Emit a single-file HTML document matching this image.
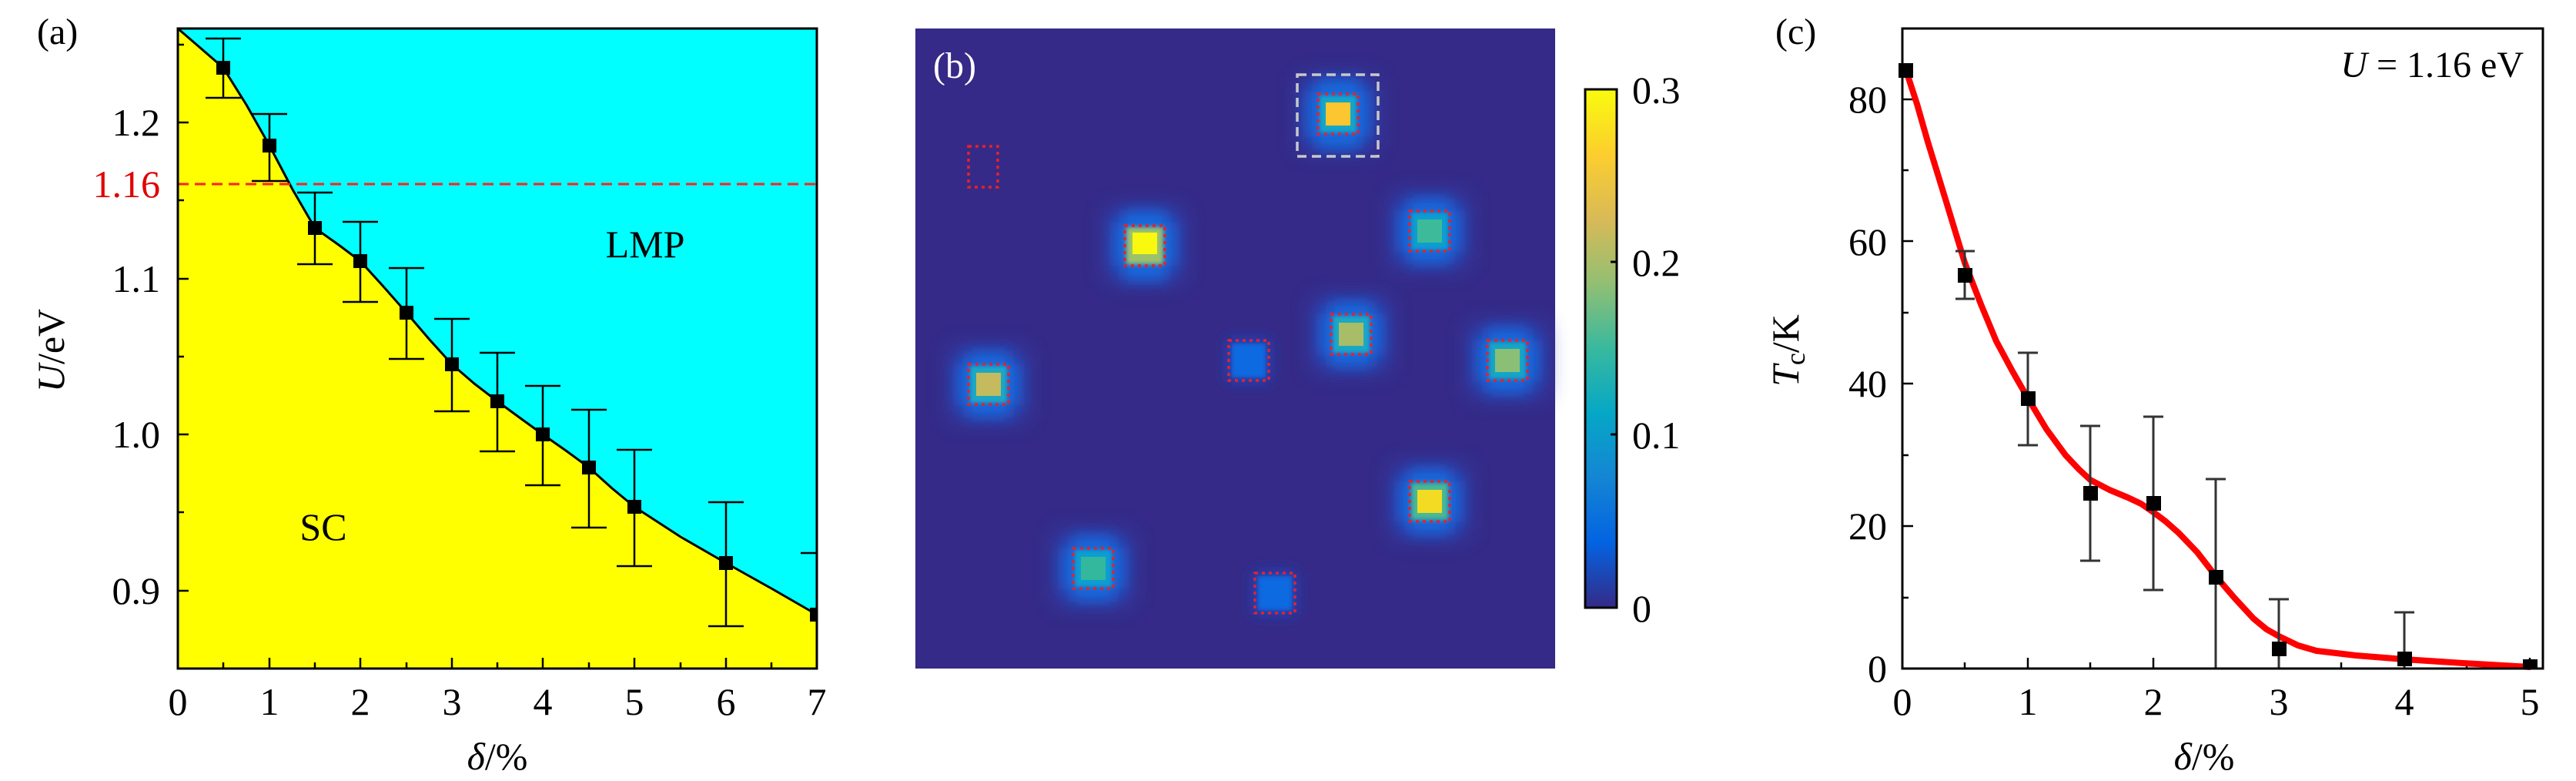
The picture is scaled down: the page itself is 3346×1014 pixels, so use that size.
<!DOCTYPE html>
<html><head><meta charset="utf-8"><style>
html,body{margin:0;padding:0;background:#fff;}
svg{display:block;}
text{font-family:"Liberation Serif","DejaVu Serif",serif;}
</style></head><body>
<svg width="3346" height="1014" viewBox="0 0 3346 1014" xmlns="http://www.w3.org/2000/svg">
<defs>
<filter id="bl" x="-50%" y="-50%" width="200%" height="200%"><feGaussianBlur stdDeviation="9"/></filter>
<filter id="bl0" x="-50%" y="-50%" width="200%" height="200%"><feGaussianBlur stdDeviation="14"/></filter>
<filter id="bl2" x="-50%" y="-50%" width="200%" height="200%"><feGaussianBlur stdDeviation="3"/></filter>
<linearGradient id="parula" x1="0" y1="1" x2="0" y2="0">
<stop offset="0" stop-color="#352A87"/><stop offset="0.125" stop-color="#0363E1"/><stop offset="0.25" stop-color="#1485D4"/><stop offset="0.375" stop-color="#06A7C6"/><stop offset="0.5" stop-color="#38B99E"/><stop offset="0.625" stop-color="#92BF73"/><stop offset="0.75" stop-color="#D9BA56"/><stop offset="0.875" stop-color="#FCCE2E"/><stop offset="1" stop-color="#F9FB0E"/>
</linearGradient>
</defs>

<!-- ===== Panel (a) ===== -->
<rect x="231" y="37" width="830" height="831" fill="#00FFFF"/>
<polygon fill="#FFFF00" points="231,37 290,88 350,189 409,296 468,339 528,406 587,473 646,521 705,564 765,607 824,658 943,731 1061,798 1061,868 231,868"/>
<polyline fill="none" stroke="#000" stroke-width="3" stroke-linejoin="round" points="231,37 260,62 290,88 320,136 350,189 380,246 409,296 440,318 468,339 498,372 528,406 558,441 587,473 616,498 646,521 676,543 705,564 735,585 765,607 795,634 824,658 884,697 943,731 1002,764 1061,798"/>
<line x1="231" y1="239" x2="1061" y2="239" stroke="#FF2020" stroke-width="3" stroke-dasharray="14,8"/>
<g stroke="#000" stroke-width="2.5">
<line x1="290" y1="50" x2="290" y2="127"/><line x1="267" y1="50" x2="313" y2="50"/><line x1="267" y1="127" x2="313" y2="127"/>
<line x1="350" y1="148" x2="350" y2="235"/><line x1="327" y1="148" x2="373" y2="148"/><line x1="327" y1="235" x2="373" y2="235"/>
<line x1="409" y1="250" x2="409" y2="343"/><line x1="386" y1="250" x2="432" y2="250"/><line x1="386" y1="343" x2="432" y2="343"/>
<line x1="468" y1="288" x2="468" y2="392"/><line x1="445" y1="288" x2="491" y2="288"/><line x1="445" y1="392" x2="491" y2="392"/>
<line x1="528" y1="348" x2="528" y2="466"/><line x1="505" y1="348" x2="551" y2="348"/><line x1="505" y1="466" x2="551" y2="466"/>
<line x1="587" y1="414" x2="587" y2="534"/><line x1="564" y1="414" x2="610" y2="414"/><line x1="564" y1="534" x2="610" y2="534"/>
<line x1="646" y1="458" x2="646" y2="586"/><line x1="623" y1="458" x2="669" y2="458"/><line x1="623" y1="586" x2="669" y2="586"/>
<line x1="705" y1="501" x2="705" y2="630"/><line x1="682" y1="501" x2="728" y2="501"/><line x1="682" y1="630" x2="728" y2="630"/>
<line x1="765" y1="532" x2="765" y2="685"/><line x1="742" y1="532" x2="788" y2="532"/><line x1="742" y1="685" x2="788" y2="685"/>
<line x1="824" y1="584" x2="824" y2="735"/><line x1="801" y1="584" x2="847" y2="584"/><line x1="801" y1="735" x2="847" y2="735"/>
<line x1="943" y1="652" x2="943" y2="813"/><line x1="920" y1="652" x2="966" y2="652"/><line x1="920" y1="813" x2="966" y2="813"/>
<line x1="1061" y1="718" x2="1061" y2="868"/><line x1="1040" y1="718" x2="1061" y2="718"/>
</g>
<g fill="#000">
<rect x="281" y="79" width="18" height="18"/><rect x="341" y="180" width="18" height="18"/><rect x="400" y="287" width="18" height="18"/>
<rect x="459" y="330" width="18" height="18"/><rect x="519" y="397" width="18" height="18"/><rect x="578" y="464" width="18" height="18"/>
<rect x="637" y="512" width="18" height="18"/><rect x="696" y="555" width="18" height="18"/><rect x="756" y="598" width="18" height="18"/>
<rect x="815" y="649" width="18" height="18"/><rect x="934" y="722" width="18" height="18"/><rect x="1052" y="789" width="9" height="18"/>
</g>
<g stroke="#000" stroke-width="2.5">
<line x1="231" y1="159" x2="245" y2="159"/><line x1="231" y1="362" x2="245" y2="362"/><line x1="231" y1="564" x2="245" y2="564"/><line x1="231" y1="767" x2="245" y2="767"/>
<line x1="231" y1="58" x2="239" y2="58"/><line x1="231" y1="260" x2="239" y2="260"/><line x1="231" y1="463" x2="239" y2="463"/><line x1="231" y1="665" x2="239" y2="665"/>
<line x1="350" y1="868" x2="350" y2="854"/><line x1="468" y1="868" x2="468" y2="854"/><line x1="587" y1="868" x2="587" y2="854"/><line x1="705" y1="868" x2="705" y2="854"/><line x1="824" y1="868" x2="824" y2="854"/><line x1="943" y1="868" x2="943" y2="854"/>
<line x1="290" y1="868" x2="290" y2="860"/><line x1="409" y1="868" x2="409" y2="860"/><line x1="528" y1="868" x2="528" y2="860"/><line x1="646" y1="868" x2="646" y2="860"/><line x1="765" y1="868" x2="765" y2="860"/><line x1="884" y1="868" x2="884" y2="860"/><line x1="1002" y1="868" x2="1002" y2="860"/>
</g>
<rect x="231" y="37" width="830" height="831" fill="none" stroke="#000" stroke-width="3"/>
<g font-size="50" text-anchor="end">
<text x="208" y="176">1.2</text><text x="208" y="379">1.1</text><text x="208" y="581">1.0</text><text x="208" y="784">0.9</text>
<text x="208" y="256" fill="#E00000">1.16</text>
</g>
<g font-size="50" text-anchor="middle">
<text x="231" y="928">0</text><text x="350" y="928">1</text><text x="468" y="928">2</text><text x="587" y="928">3</text><text x="705" y="928">4</text><text x="824" y="928">5</text><text x="943" y="928">6</text><text x="1061" y="928">7</text>
<text x="646" y="999"><tspan font-style="italic">δ</tspan>/%</text>
<text x="838" y="334">LMP</text><text x="420" y="701">SC</text>
</g>
<text x="83" y="455" font-size="50" text-anchor="middle" transform="rotate(-90 83 455)"><tspan font-style="italic">U</tspan>/eV</text>
<text x="48" y="57" font-size="48">(a)</text>

<!-- ===== Panel (b) ===== -->
<rect x="1189" y="37" width="831" height="831" fill="#352A87"/>
<g filter="url(#bl0)" fill="#2C4BC0" opacity="0.7">
<rect x="1688" y="100" width="100" height="96"/>
<rect x="1437" y="270" width="100" height="96"/>
<rect x="1807" y="252" width="100" height="96"/>
<rect x="1705" y="386" width="100" height="96"/>
<rect x="1908" y="420" width="100" height="96"/>
<rect x="1234" y="451" width="100" height="96"/>
<rect x="1807" y="603" width="100" height="96"/>
<rect x="1370" y="690" width="100" height="96"/>
</g>
<g filter="url(#bl)">
<g fill="#1468DC">
<rect x="1698" y="118" width="80" height="60"/><rect x="1710" y="103" width="56" height="90"/>
<rect x="1447" y="289" width="80" height="56"/><rect x="1459" y="274" width="56" height="90"/>
<rect x="1817" y="273" width="80" height="54"/><rect x="1830" y="258" width="54" height="84"/>
<rect x="1715" y="407" width="80" height="54"/><rect x="1728" y="392" width="54" height="84"/>
<rect x="1918" y="441" width="80" height="54"/><rect x="1931" y="426" width="54" height="84"/>
<rect x="1244" y="472" width="80" height="54"/><rect x="1257" y="457" width="54" height="84"/>
<rect x="1817" y="624" width="80" height="54"/><rect x="1830" y="609" width="54" height="84"/>
<rect x="1380" y="711" width="80" height="54"/><rect x="1393" y="696" width="54" height="84"/>
</g>
<g fill="#1A4AC8" opacity="0.8">
<rect x="1594" y="440" width="56" height="56"/><rect x="1628" y="742" width="56" height="56"/>
</g>
</g>
<g filter="url(#bl2)">
<rect x="1714" y="124" width="48" height="48" fill="#12A6C8"/>
<rect x="1463" y="295" width="48" height="48" fill="#9CC26A"/>
<rect x="1833" y="276" width="48" height="48" fill="#0E9ED0"/>
<rect x="1731" y="410" width="48" height="48" fill="#1AA8C4"/>
<rect x="1934" y="444" width="48" height="48" fill="#19A6C6"/>
<rect x="1260" y="475" width="48" height="48" fill="#1AA8C4"/>
<rect x="1833" y="627" width="48" height="48" fill="#4AB894"/>
<rect x="1396" y="714" width="48" height="48" fill="#0E9ED0"/>
<rect x="1600" y="446" width="44" height="44" fill="#0A6BE0"/>
<rect x="1634" y="748" width="44" height="44" fill="#0A6BE0"/>
</g>
<rect x="1722" y="133" width="32" height="30" fill="#FCC630"/>
<rect x="1471" y="302" width="32" height="28" fill="#F9F80F"/>
<rect x="1841" y="285" width="32" height="30" fill="#3DBA99"/>
<rect x="1739" y="419" width="32" height="30" fill="#A9BD68"/>
<rect x="1942" y="453" width="32" height="30" fill="#8CBF76"/>
<rect x="1268" y="484" width="32" height="30" fill="#C5BB5E"/>
<rect x="1841" y="636" width="32" height="30" fill="#F3DB23"/>
<rect x="1404" y="723" width="32" height="30" fill="#33B89E"/>
<g fill="none" stroke="#E8202A" stroke-width="3.5" stroke-dasharray="4,5">
<rect x="1712" y="122" width="52" height="52"/>
<rect x="1461" y="293" width="52" height="52"/>
<rect x="1831" y="274" width="52" height="52"/>
<rect x="1729" y="408" width="52" height="52"/>
<rect x="1932" y="442" width="52" height="52"/>
<rect x="1258" y="473" width="52" height="52"/>
<rect x="1831" y="625" width="52" height="52"/>
<rect x="1394" y="712" width="52" height="52"/>
<rect x="1596" y="442" width="52" height="52"/>
<rect x="1630" y="744" width="52" height="52"/>
<rect x="1258" y="190" width="38" height="53"/>
</g>
<rect x="1685" y="97" width="105" height="106" fill="none" stroke="#C8C8C8" stroke-width="3.5" stroke-dasharray="12,7"/>
<text x="1212" y="101" font-size="48" fill="#fff">(b)</text>
<rect x="2059" y="116" width="41" height="673" fill="url(#parula)" stroke="#000" stroke-width="3"/>
<g stroke="#000" stroke-width="3"><line x1="2092" y1="340" x2="2100" y2="340"/><line x1="2092" y1="564" x2="2100" y2="564"/></g>
<g font-size="50"><text x="2120" y="134">0.3</text><text x="2120" y="358">0.2</text><text x="2120" y="582">0.1</text><text x="2120" y="807">0</text></g>

<!-- ===== Panel (c) ===== -->
<g stroke="#000" stroke-width="2.5">
<line x1="2471" y1="129" x2="2485" y2="129"/><line x1="2471" y1="313" x2="2485" y2="313"/><line x1="2471" y1="498" x2="2485" y2="498"/><line x1="2471" y1="683" x2="2485" y2="683"/>
<line x1="2471" y1="221" x2="2479" y2="221"/><line x1="2471" y1="406" x2="2479" y2="406"/><line x1="2471" y1="591" x2="2479" y2="591"/><line x1="2471" y1="776" x2="2479" y2="776"/>
<line x1="2634" y1="868" x2="2634" y2="854"/><line x1="2797" y1="868" x2="2797" y2="854"/><line x1="2960" y1="868" x2="2960" y2="854"/><line x1="3123" y1="868" x2="3123" y2="854"/><line x1="3286" y1="868" x2="3286" y2="854"/>
<line x1="2552" y1="868" x2="2552" y2="860"/><line x1="2715" y1="868" x2="2715" y2="860"/><line x1="2878" y1="868" x2="2878" y2="860"/><line x1="3041" y1="868" x2="3041" y2="860"/><line x1="3204" y1="868" x2="3204" y2="860"/>
</g>
<polyline fill="none" stroke="#FF0000" stroke-width="8" stroke-linejoin="round" stroke-linecap="round" points="2476,92 2490,135 2504,184 2528,262 2552,341 2573,395 2593,443 2614,482 2634,517 2658,557 2683,591 2700,609 2715,623 2740,636 2764,646 2781,654 2797,665 2813,677 2830,692 2854,717 2878,748 2903,777 2927,803 2944,817 2960,826 2985,838 3009,845 3060,851 3123,856 3200,861 3286,866"/>
<g stroke="#333" stroke-width="3">
<line x1="2552" y1="326" x2="2552" y2="388"/><line x1="2540" y1="326" x2="2565" y2="326"/><line x1="2540" y1="388" x2="2565" y2="388"/>
<line x1="2634" y1="458" x2="2634" y2="578"/><line x1="2621" y1="458" x2="2647" y2="458"/><line x1="2621" y1="578" x2="2647" y2="578"/>
<line x1="2715" y1="553" x2="2715" y2="728"/><line x1="2702" y1="553" x2="2728" y2="553"/><line x1="2702" y1="728" x2="2728" y2="728"/>
<line x1="2797" y1="541" x2="2797" y2="766"/><line x1="2784" y1="541" x2="2810" y2="541"/><line x1="2784" y1="766" x2="2810" y2="766"/>
<line x1="2878" y1="622" x2="2878" y2="868"/><line x1="2865" y1="622" x2="2891" y2="622"/>
<line x1="2960" y1="778" x2="2960" y2="868"/><line x1="2947" y1="778" x2="2973" y2="778"/>
<line x1="3123" y1="795" x2="3123" y2="868"/><line x1="3110" y1="795" x2="3136" y2="795"/>
</g>
<g fill="#000">
<rect x="2466" y="82" width="19" height="19"/><rect x="2543" y="348" width="19" height="19"/><rect x="2625" y="508" width="19" height="19"/>
<rect x="2706" y="631" width="19" height="19"/><rect x="2788" y="644" width="19" height="19"/><rect x="2869" y="740" width="19" height="19"/>
<rect x="2951" y="833" width="19" height="19"/><rect x="3114" y="846" width="19" height="19"/><rect x="3277" y="856" width="19" height="12"/>
</g>
<rect x="2471" y="37" width="832" height="831" fill="none" stroke="#000" stroke-width="3"/>
<g font-size="50" text-anchor="end">
<text x="2451" y="885">0</text><text x="2451" y="700">20</text><text x="2451" y="515">40</text><text x="2451" y="331">60</text><text x="2451" y="146">80</text>
</g>
<g font-size="50" text-anchor="middle">
<text x="2471" y="928">0</text><text x="2634" y="928">1</text><text x="2797" y="928">2</text><text x="2960" y="928">3</text><text x="3123" y="928">4</text><text x="3286" y="928">5</text>
<text x="2863" y="999"><tspan font-style="italic">δ</tspan>/%</text>
</g>
<text x="3278" y="100" font-size="48" text-anchor="end"><tspan font-style="italic">U</tspan> = 1.16 eV</text>
<text x="2336" y="455" font-size="50" text-anchor="middle" transform="rotate(-90 2336 455)"><tspan font-style="italic">T</tspan><tspan font-size="36" dy="8">c</tspan><tspan dy="-8">/K</tspan></text>
<text x="2306" y="57" font-size="48">(c)</text>
</svg>
</body></html>
